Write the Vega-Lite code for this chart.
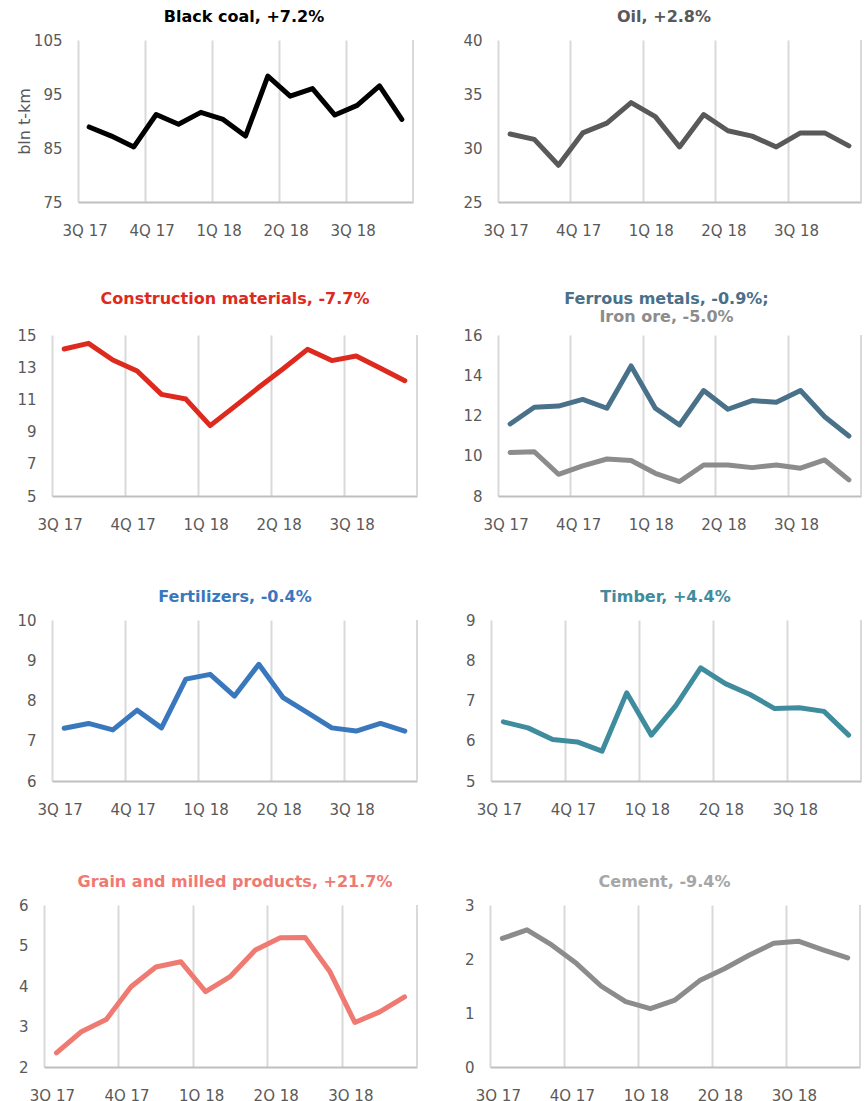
{
  "$schema": "https://vega.github.io/schema/vega-lite/v6.json",
  "padding": {"left": 15, "top": 9, "right": 5, "bottom": 5},
  "background": "#ffffff",
  "datasets": {
    "coal": [
      {"month": "2017-07", "v": 88.9}, {"month": "2017-08", "v": 87.2}, {"month": "2017-09", "v": 85.2},
      {"month": "2017-10", "v": 91.2}, {"month": "2017-11", "v": 89.4}, {"month": "2017-12", "v": 91.6},
      {"month": "2018-01", "v": 90.3}, {"month": "2018-02", "v": 87.2}, {"month": "2018-03", "v": 98.3},
      {"month": "2018-04", "v": 94.6}, {"month": "2018-05", "v": 96.0}, {"month": "2018-06", "v": 91.1},
      {"month": "2018-07", "v": 92.9}, {"month": "2018-08", "v": 96.5}, {"month": "2018-09", "v": 90.3}
    ],
    "oil": [
      {"month": "2017-07", "v": 31.3}, {"month": "2017-08", "v": 30.8}, {"month": "2017-09", "v": 28.4},
      {"month": "2017-10", "v": 31.4}, {"month": "2017-11", "v": 32.3}, {"month": "2017-12", "v": 34.2},
      {"month": "2018-01", "v": 32.9}, {"month": "2018-02", "v": 30.1}, {"month": "2018-03", "v": 33.1},
      {"month": "2018-04", "v": 31.6}, {"month": "2018-05", "v": 31.1}, {"month": "2018-06", "v": 30.1},
      {"month": "2018-07", "v": 31.4}, {"month": "2018-08", "v": 31.4}, {"month": "2018-09", "v": 30.2}
    ],
    "constr": [
      {"month": "2017-07", "v": 14.13}, {"month": "2017-08", "v": 14.48}, {"month": "2017-09", "v": 13.45},
      {"month": "2017-10", "v": 12.76}, {"month": "2017-11", "v": 11.31}, {"month": "2017-12", "v": 11.02},
      {"month": "2018-01", "v": 9.37}, {"month": "2018-02", "v": 10.55}, {"month": "2018-03", "v": 11.75},
      {"month": "2018-04", "v": 12.9}, {"month": "2018-05", "v": 14.11}, {"month": "2018-06", "v": 13.41},
      {"month": "2018-07", "v": 13.7}, {"month": "2018-08", "v": 12.93}, {"month": "2018-09", "v": 12.16}
    ],
    "ferrous": [
      {"month": "2017-07", "series": "Ferrous metals", "v": 11.58}, {"month": "2017-08", "series": "Ferrous metals", "v": 12.41},
      {"month": "2017-09", "series": "Ferrous metals", "v": 12.47}, {"month": "2017-10", "series": "Ferrous metals", "v": 12.8},
      {"month": "2017-11", "series": "Ferrous metals", "v": 12.36}, {"month": "2017-12", "series": "Ferrous metals", "v": 14.46},
      {"month": "2018-01", "series": "Ferrous metals", "v": 12.36}, {"month": "2018-02", "series": "Ferrous metals", "v": 11.53},
      {"month": "2018-03", "series": "Ferrous metals", "v": 13.24}, {"month": "2018-04", "series": "Ferrous metals", "v": 12.31},
      {"month": "2018-05", "series": "Ferrous metals", "v": 12.74}, {"month": "2018-06", "series": "Ferrous metals", "v": 12.66},
      {"month": "2018-07", "series": "Ferrous metals", "v": 13.24}, {"month": "2018-08", "series": "Ferrous metals", "v": 11.94},
      {"month": "2018-09", "series": "Ferrous metals", "v": 10.98},
      {"month": "2017-07", "series": "Iron ore", "v": 10.16}, {"month": "2017-08", "series": "Iron ore", "v": 10.2},
      {"month": "2017-09", "series": "Iron ore", "v": 9.08}, {"month": "2017-10", "series": "Iron ore", "v": 9.5},
      {"month": "2017-11", "series": "Iron ore", "v": 9.84}, {"month": "2017-12", "series": "Iron ore", "v": 9.76},
      {"month": "2018-01", "series": "Iron ore", "v": 9.13}, {"month": "2018-02", "series": "Iron ore", "v": 8.72},
      {"month": "2018-03", "series": "Iron ore", "v": 9.54}, {"month": "2018-04", "series": "Iron ore", "v": 9.54},
      {"month": "2018-05", "series": "Iron ore", "v": 9.41}, {"month": "2018-06", "series": "Iron ore", "v": 9.54},
      {"month": "2018-07", "series": "Iron ore", "v": 9.38}, {"month": "2018-08", "series": "Iron ore", "v": 9.79},
      {"month": "2018-09", "series": "Iron ore", "v": 8.8}
    ],
    "fert": [
      {"month": "2017-07", "v": 7.31}, {"month": "2017-08", "v": 7.43}, {"month": "2017-09", "v": 7.27},
      {"month": "2017-10", "v": 7.76}, {"month": "2017-11", "v": 7.32}, {"month": "2017-12", "v": 8.53},
      {"month": "2018-01", "v": 8.65}, {"month": "2018-02", "v": 8.11}, {"month": "2018-03", "v": 8.9},
      {"month": "2018-04", "v": 8.07}, {"month": "2018-05", "v": 7.7}, {"month": "2018-06", "v": 7.32},
      {"month": "2018-07", "v": 7.24}, {"month": "2018-08", "v": 7.43}, {"month": "2018-09", "v": 7.24}
    ],
    "timber": [
      {"month": "2017-07", "v": 6.47}, {"month": "2017-08", "v": 6.32}, {"month": "2017-09", "v": 6.03},
      {"month": "2017-10", "v": 5.97}, {"month": "2017-11", "v": 5.74}, {"month": "2017-12", "v": 7.19},
      {"month": "2018-01", "v": 6.14}, {"month": "2018-02", "v": 6.88}, {"month": "2018-03", "v": 7.81},
      {"month": "2018-04", "v": 7.42}, {"month": "2018-05", "v": 7.15}, {"month": "2018-06", "v": 6.8},
      {"month": "2018-07", "v": 6.82}, {"month": "2018-08", "v": 6.73}, {"month": "2018-09", "v": 6.14}
    ],
    "grain": [
      {"month": "2017-07", "v": 2.35}, {"month": "2017-08", "v": 2.87}, {"month": "2017-09", "v": 3.17},
      {"month": "2017-10", "v": 3.98}, {"month": "2017-11", "v": 4.47}, {"month": "2017-12", "v": 4.6},
      {"month": "2018-01", "v": 3.86}, {"month": "2018-02", "v": 4.24}, {"month": "2018-03", "v": 4.89},
      {"month": "2018-04", "v": 5.19}, {"month": "2018-05", "v": 5.2}, {"month": "2018-06", "v": 4.35},
      {"month": "2018-07", "v": 3.1}, {"month": "2018-08", "v": 3.36}, {"month": "2018-09", "v": 3.73}
    ],
    "cement": [
      {"month": "2017-07", "v": 2.38}, {"month": "2017-08", "v": 2.54}, {"month": "2017-09", "v": 2.26},
      {"month": "2017-10", "v": 1.92}, {"month": "2017-11", "v": 1.5}, {"month": "2017-12", "v": 1.21},
      {"month": "2018-01", "v": 1.08}, {"month": "2018-02", "v": 1.24}, {"month": "2018-03", "v": 1.6},
      {"month": "2018-04", "v": 1.82}, {"month": "2018-05", "v": 2.07}, {"month": "2018-06", "v": 2.29},
      {"month": "2018-07", "v": 2.33}, {"month": "2018-08", "v": 2.17}, {"month": "2018-09", "v": 2.02}
    ],
    "edge": [{"month": "2018-09"}],
    "none": []
  },
  "concat": [
    {
      "hconcat": [
        {"width": 1, "height": 1, "data": {"name": "none"}, "mark": {"type": "rule", "opacity": 0}, "encoding": {}},
        {
          "hconcat": [
            {
              "width": 335, "height": 162,
              "title": {"text": "Black coal, +7.2%", "color": "#000000", "dx": -1.5},
              "layer": [
                {"data": {"name": "edge"}, "mark": {"type": "rule", "color": "#d9d9d9", "strokeWidth": 2},
                 "encoding": {"x": {"field": "month", "type": "ordinal", "bandPosition": 1}}},
                {"data": {"name": "coal"},
                 "mark": {"type": "line", "color": "#000000", "strokeWidth": 5, "strokeJoin": "round", "strokeCap": "round"},
                 "encoding": {
                   "x": {"field": "month", "type": "ordinal", "title": null, "bandPosition": 0.5, "scale": {"type": "band", "paddingInner": 0, "paddingOuter": 0},
                         "axis": {"values": ["2017-07", "2017-10", "2018-01", "2018-04", "2018-07"], "bandPosition": 0, "labelOffset": -4,
                                  "labelExpr": "(floor((toNumber(slice(datum.value,5))-1)/3)+1) + 'Q ' + slice(datum.value,2,4)"}},
                   "y": {"field": "v", "type": "quantitative", "scale": {"domain": [75, 105], "nice": false, "zero": false},
                         "axis": {"values": [75, 85, 95, 105], "title": "bln t-km", "titleFont": "DejaVu Sans", "titleFontSize": 16, "titleFontWeight": "normal", "titleColor": "#595959", "titlePadding": 1}}
                 }}
              ]
            },
            {
              "width": 363, "height": 162,
              "title": {"text": "Oil, +2.8%", "color": "#595959", "dx": -15.5},
              "layer": [
                {"data": {"name": "edge"}, "mark": {"type": "rule", "color": "#d9d9d9", "strokeWidth": 2},
                 "encoding": {"x": {"field": "month", "type": "ordinal", "bandPosition": 1}}},
                {"data": {"name": "oil"},
                 "mark": {"type": "line", "color": "#595959", "strokeWidth": 5, "strokeJoin": "round", "strokeCap": "round"},
                 "encoding": {
                   "x": {"field": "month", "type": "ordinal", "title": null, "bandPosition": 0.5, "scale": {"type": "band", "paddingInner": 0, "paddingOuter": 0},
                         "axis": {"values": ["2017-07", "2017-10", "2018-01", "2018-04", "2018-07"], "bandPosition": 0, "labelOffset": -4,
                                  "labelExpr": "(floor((toNumber(slice(datum.value,5))-1)/3)+1) + 'Q ' + slice(datum.value,2,4)"}},
                   "y": {"field": "v", "type": "quantitative", "title": null, "scale": {"domain": [25, 40], "nice": false, "zero": false},
                         "axis": {"values": [25, 30, 35, 40]}}
                 }}
              ]
            }
          ],
          "spacing": 48
        }
      ],
      "spacing": 0
    },
    {
      "concat": [
        {
          "hconcat": [
            {"width": 1, "height": 1, "data": {"name": "none"}, "mark": {"type": "rule", "opacity": 0}, "encoding": {}},
            {
              "hconcat": [
                {
                  "width": 365, "height": 161,
                  "title": {"text": "Construction materials, -7.7%", "subtitle": " ", "color": "#DE2A1E", "dx": 0.5, "offset": 3},
                  "layer": [
                    {"data": {"name": "edge"}, "mark": {"type": "rule", "color": "#d9d9d9", "strokeWidth": 2},
                     "encoding": {"x": {"field": "month", "type": "ordinal", "bandPosition": 1}}},
                    {"data": {"name": "constr"},
                     "mark": {"type": "line", "color": "#DE2A1E", "strokeWidth": 5, "strokeJoin": "round", "strokeCap": "round"},
                     "encoding": {
                       "x": {"field": "month", "type": "ordinal", "title": null, "bandPosition": 0.5, "scale": {"type": "band", "paddingInner": 0, "paddingOuter": 0},
                             "axis": {"values": ["2017-07", "2017-10", "2018-01", "2018-04", "2018-07"], "bandPosition": 0, "labelOffset": -4,
                                      "labelExpr": "(floor((toNumber(slice(datum.value,5))-1)/3)+1) + 'Q ' + slice(datum.value,2,4)"}},
                       "y": {"field": "v", "type": "quantitative", "title": null, "scale": {"domain": [5, 15], "nice": false, "zero": false},
                             "axis": {"values": [5, 7, 9, 11, 13, 15]}}
                     }}
                  ]
                },
                {
                  "width": 363, "height": 161,
                  "title": {"text": "Ferrous metals, -0.9%;", "subtitle": "Iron ore, -5.0%", "color": "#4A6F89", "subtitleColor": "#8C8C8C", "dx": -13, "offset": 3},
                  "layer": [
                    {"data": {"name": "edge"}, "mark": {"type": "rule", "color": "#d9d9d9", "strokeWidth": 2},
                     "encoding": {"x": {"field": "month", "type": "ordinal", "bandPosition": 1}}},
                    {"data": {"name": "ferrous"},
                     "mark": {"type": "line", "strokeWidth": 5, "strokeJoin": "round", "strokeCap": "round"},
                     "encoding": {
                       "x": {"field": "month", "type": "ordinal", "title": null, "bandPosition": 0.5, "scale": {"type": "band", "paddingInner": 0, "paddingOuter": 0},
                             "axis": {"values": ["2017-07", "2017-10", "2018-01", "2018-04", "2018-07"], "bandPosition": 0, "labelOffset": -4,
                                      "labelExpr": "(floor((toNumber(slice(datum.value,5))-1)/3)+1) + 'Q ' + slice(datum.value,2,4)"}},
                       "y": {"field": "v", "type": "quantitative", "title": null, "scale": {"domain": [8, 16], "nice": false, "zero": false},
                             "axis": {"values": [8, 10, 12, 14, 16]}},
                       "color": {"field": "series", "type": "nominal", "legend": null,
                                 "scale": {"domain": ["Ferrous metals", "Iron ore"], "range": ["#4A718A", "#8C8C8C"]}}
                     }}
                  ]
                }
              ],
              "spacing": 44
            }
          ],
          "spacing": 0
        },
        {
          "concat": [
            {
              "hconcat": [
                {"width": 1, "height": 1, "data": {"name": "none"}, "mark": {"type": "rule", "opacity": 0}, "encoding": {}},
                {
                  "hconcat": [
                    {
                      "width": 365, "height": 161,
                      "title": {"text": "Fertilizers, -0.4%", "color": "#3A78BE", "dx": 0.5},
                      "layer": [
                        {"data": {"name": "edge"}, "mark": {"type": "rule", "color": "#d9d9d9", "strokeWidth": 2},
                         "encoding": {"x": {"field": "month", "type": "ordinal", "bandPosition": 1}}},
                        {"data": {"name": "fert"},
                         "mark": {"type": "line", "color": "#3A78BE", "strokeWidth": 5, "strokeJoin": "round", "strokeCap": "round"},
                         "encoding": {
                           "x": {"field": "month", "type": "ordinal", "title": null, "bandPosition": 0.5, "scale": {"type": "band", "paddingInner": 0, "paddingOuter": 0},
                                 "axis": {"values": ["2017-07", "2017-10", "2018-01", "2018-04", "2018-07"], "bandPosition": 0, "labelOffset": -4,
                                          "labelExpr": "(floor((toNumber(slice(datum.value,5))-1)/3)+1) + 'Q ' + slice(datum.value,2,4)"}},
                           "y": {"field": "v", "type": "quantitative", "title": null, "scale": {"domain": [6, 10], "nice": false, "zero": false},
                                 "axis": {"values": [6, 7, 8, 9, 10]}}
                         }}
                      ]
                    },
                    {
                      "width": 370, "height": 161,
                      "title": {"text": "Timber, +4.4%", "color": "#3F8C9E", "dx": -10.5},
                      "layer": [
                        {"data": {"name": "edge"}, "mark": {"type": "rule", "color": "#d9d9d9", "strokeWidth": 2},
                         "encoding": {"x": {"field": "month", "type": "ordinal", "bandPosition": 1}}},
                        {"data": {"name": "timber"},
                         "mark": {"type": "line", "color": "#3F8C9E", "strokeWidth": 5, "strokeJoin": "round", "strokeCap": "round"},
                         "encoding": {
                           "x": {"field": "month", "type": "ordinal", "title": null, "bandPosition": 0.5, "scale": {"type": "band", "paddingInner": 0, "paddingOuter": 0},
                                 "axis": {"values": ["2017-07", "2017-10", "2018-01", "2018-04", "2018-07"], "bandPosition": 0, "labelOffset": -4,
                                          "labelExpr": "(floor((toNumber(slice(datum.value,5))-1)/3)+1) + 'Q ' + slice(datum.value,2,4)"}},
                           "y": {"field": "v", "type": "quantitative", "title": null, "scale": {"domain": [5, 9], "nice": false, "zero": false},
                                 "axis": {"values": [5, 6, 7, 8, 9]}}
                         }}
                      ]
                    }
                  ],
                  "spacing": 47
                }
              ],
              "spacing": 0
            },
            {
              "hconcat": [
                {"width": 1, "height": 1, "data": {"name": "none"}, "mark": {"type": "rule", "opacity": 0}, "encoding": {}},
                {
                  "hconcat": [
                    {
                      "width": 373, "height": 162,
                      "title": {"text": "Grain and milled products, +21.7%", "color": "#EF7A72", "dx": 4.5},
                      "layer": [
                        {"data": {"name": "edge"}, "mark": {"type": "rule", "color": "#d9d9d9", "strokeWidth": 2},
                         "encoding": {"x": {"field": "month", "type": "ordinal", "bandPosition": 1}}},
                        {"data": {"name": "grain"},
                         "mark": {"type": "line", "color": "#EF7A72", "strokeWidth": 5, "strokeJoin": "round", "strokeCap": "round"},
                         "encoding": {
                           "x": {"field": "month", "type": "ordinal", "title": null, "bandPosition": 0.5, "scale": {"type": "band", "paddingInner": 0, "paddingOuter": 0},
                                 "axis": {"values": ["2017-07", "2017-10", "2018-01", "2018-04", "2018-07"], "bandPosition": 0, "labelOffset": -4,
                                          "labelExpr": "(floor((toNumber(slice(datum.value,5))-1)/3)+1) + 'Q ' + slice(datum.value,2,4)"}},
                           "y": {"field": "v", "type": "quantitative", "title": null, "scale": {"domain": [2, 6], "nice": false, "zero": false},
                                 "axis": {"values": [2, 3, 4, 5, 6], "minExtent": 28}}
                         }}
                      ]
                    },
                    {
                      "width": 370, "height": 162,
                      "title": {"text": "Cement, -9.4%", "color": "#A6A6A6", "dx": -10.5},
                      "layer": [
                        {"data": {"name": "edge"}, "mark": {"type": "rule", "color": "#d9d9d9", "strokeWidth": 2},
                         "encoding": {"x": {"field": "month", "type": "ordinal", "bandPosition": 1}}},
                        {"data": {"name": "cement"},
                         "mark": {"type": "line", "color": "#8C8C8C", "strokeWidth": 5, "strokeJoin": "round", "strokeCap": "round"},
                         "encoding": {
                           "x": {"field": "month", "type": "ordinal", "title": null, "bandPosition": 0.5, "scale": {"type": "band", "paddingInner": 0, "paddingOuter": 0},
                                 "axis": {"values": ["2017-07", "2017-10", "2018-01", "2018-04", "2018-07"], "bandPosition": 0, "labelOffset": -4,
                                          "labelExpr": "(floor((toNumber(slice(datum.value,5))-1)/3)+1) + 'Q ' + slice(datum.value,2,4)"}},
                           "y": {"field": "v", "type": "quantitative", "title": null, "scale": {"domain": [0, 3], "nice": false, "zero": false},
                                 "axis": {"values": [0, 1, 2, 3]}}
                         }}
                      ]
                    }
                  ],
                  "spacing": 46
                }
              ],
              "spacing": 0
            }
          ],
          "columns": 1, "align": "none", "spacing": 57
        }
      ],
      "columns": 1, "align": "none", "spacing": 57
    }
  ],
  "columns": 1, "align": "none", "spacing": 53,
  "config": {
    "view": {"stroke": null},
    "font": "DejaVu Sans",
    "axis": {"labelFont": "DejaVu Sans", "labelFontSize": 15, "labelColor": "#595959", "ticks": false, "tickSize": 0, "labelAngle": 0},
    "axisX": {"grid": true, "gridColor": "#d9d9d9", "gridWidth": 2, "domainColor": "#bfbfbf", "domainWidth": 2, "labelPadding": 21},
    "axisY": {"grid": false, "domain": false, "labelPadding": 16, "minExtent": 0},
    "title": {"font": "DejaVu Sans", "fontSize": 16, "fontWeight": "bold", "frame": "group", "anchor": "middle", "offset": 8,
              "subtitleFont": "DejaVu Sans", "subtitleFontSize": 16, "subtitleFontWeight": "bold", "subtitlePadding": 2}
  }
}
